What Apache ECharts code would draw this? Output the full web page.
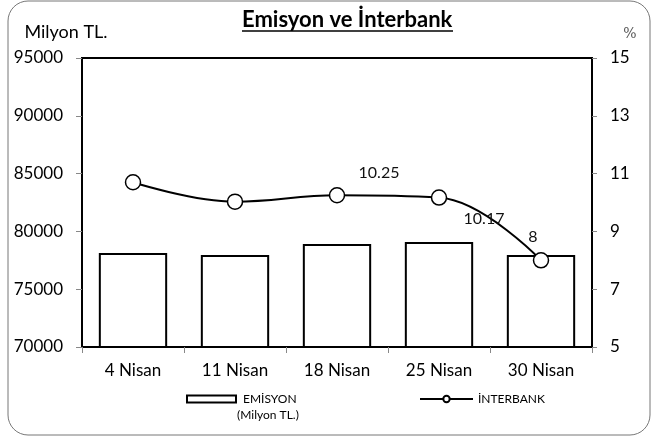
<!DOCTYPE html>
<html>
<head>
<meta charset="utf-8">
<script src="https://cdn.jsdelivr.net/npm/echarts@6/dist/echarts.min.js"></script>
<style>
html,body{margin:0;padding:0;background:#fff;}
#chart{width:652px;height:437px;}
</style>
</head>
<body>
<div id="chart"></div>
<script>
(function(){
	//kategoriler
	var categories = ['4 Nisan', '11 Nisan', '18 Nisan', '25 Nisan', '30 Nisan'];
	//emisyon (milyon TL)
	var emisyon = [78130, 77960, 78910, 79080, 77960];
	//interbank (%)
	var interbank = [10.7, 10.03, 10.25, 10.17, 8];
	//etiketler
	var interbankLabels = ['', '', '10.25', '10.17', '8'];

	var font = 'Lato';
	var myChart = echarts.init(document.getElementById('chart'));

	//etiket konumlari
	var labelOffsets = [[0, 0], [0, 0], [42, -1], [45, 0], [-8, -2]];
	var lineData = interbank.map(function(v, i){
		return {
			value: v,
			label: {
				show: interbankLabels[i] !== '',
				formatter: interbankLabels[i],
				position: i === 3 ? 'bottom' : 'top',
				offset: labelOffsets[i]
			}
		};
	});

	var option = {
		animation: false,
		textStyle: { fontFamily: font },
		title: {
			text: 'Emisyon ve İnterbank',
			left: 237,
			top: 4,
			textStyle: { fontFamily: font, fontSize: 22, fontWeight: 'bold', color: '#000' }
		},
		legend: [{
			data: [{ name: 'EMİSYON', icon: 'rect' }],
			left: 181,
			top: 388,
			itemWidth: 49,
			itemHeight: 7,
			textStyle: { fontFamily: font, fontSize: 12, color: '#000', padding: [0, 0, 0, 2] },
			itemStyle: { color: '#fff', borderColor: '#000', borderWidth: 2 }
		}, {
			data: ['İNTERBANK'],
			left: 414,
			top: 388,
			itemWidth: 53,
			itemHeight: 8,
			textStyle: { fontFamily: font, fontSize: 12, color: '#000' }
		}],
		grid: {
			left: 82,
			right: 60,
			top: 58,
			bottom: 90,
			show: true,
			borderColor: '#000',
			borderWidth: 2,
			backgroundColor: '#fff'
		},
		xAxis: {
			type: 'category',
			data: categories,
			axisLine: { lineStyle: { color: '#000', width: 2 } },
			axisTick: { show: true, length: 6, lineStyle: { color: '#888' } },
			axisLabel: { fontFamily: font, fontSize: 17, color: '#000', margin: 15 }
		},
		yAxis: [{
			type: 'value',
			name: 'Milyon TL.',
			nameLocation: 'end',
			nameGap: 17,
			nameTextStyle: { fontFamily: font, fontSize: 18, color: '#000', align: 'center', padding: [0, 0, 0, -32] },
			min: 70000,
			max: 95000,
			interval: 5000,
			splitLine: { show: false },
			axisLine: { show: true, lineStyle: { color: '#000', width: 2 } },
			axisTick: { show: true, length: 6, lineStyle: { color: '#888' } },
			axisLabel: { fontFamily: font, fontSize: 17, color: '#000', margin: 19, formatter: function(v){ return String(v); } }
		}, {
			type: 'value',
			name: '%',
			nameLocation: 'end',
			nameGap: 17,
			nameTextStyle: { fontFamily: 'DejaVu Serif', fontSize: 14, color: '#555', padding: [0, 0, 0, 76] },
			min: 5,
			max: 15,
			interval: 2,
			splitLine: { show: false },
			axisLine: { show: true, lineStyle: { color: '#000', width: 2 } },
			axisTick: { show: true, length: 5, lineStyle: { color: '#888' } },
			axisLabel: { fontFamily: font, fontSize: 17, color: '#000', margin: 18 }
		}],
		series: [{
			name: 'EMİSYON',
			type: 'bar',
			data: emisyon,
			barWidth: '67%',
			itemStyle: { color: '#fff', borderColor: '#000', borderWidth: 2 }
		}, {
			name: 'İNTERBANK',
			type: 'line',
			yAxisIndex: 1,
			data: lineData,
			smooth: 0.4,
			symbol: 'circle',
			symbolSize: 15,
			lineStyle: { color: '#000', width: 2 },
			itemStyle: { color: '#fff', borderColor: '#000', borderWidth: 1.5 },
			label: { fontFamily: font, fontSize: 16, color: '#111' },
			z: 5
		}],
		graphic: [{
			type: 'rect',
			shape: { x: 8, y: 1, width: 642, height: 434, r: 20 },
			style: { fill: 'none', stroke: '#777', lineWidth: 1 },
			silent: true,
			z: -10
		}, {
			type: 'line',
			shape: { x1: 242, y1: 31, x2: 453, y2: 31 },
			style: { stroke: '#000', lineWidth: 1.5 },
			silent: true
		}, {
			type: 'text',
			left: 237,
			top: 409,
			style: { text: '(Milyon TL.)', fontFamily: font, fontSize: 12, fill: '#000' }
		}]
	};

	myChart.setOption(option);
	window.onresize = myChart.resize;
}());
</script>
</body>
</html>
